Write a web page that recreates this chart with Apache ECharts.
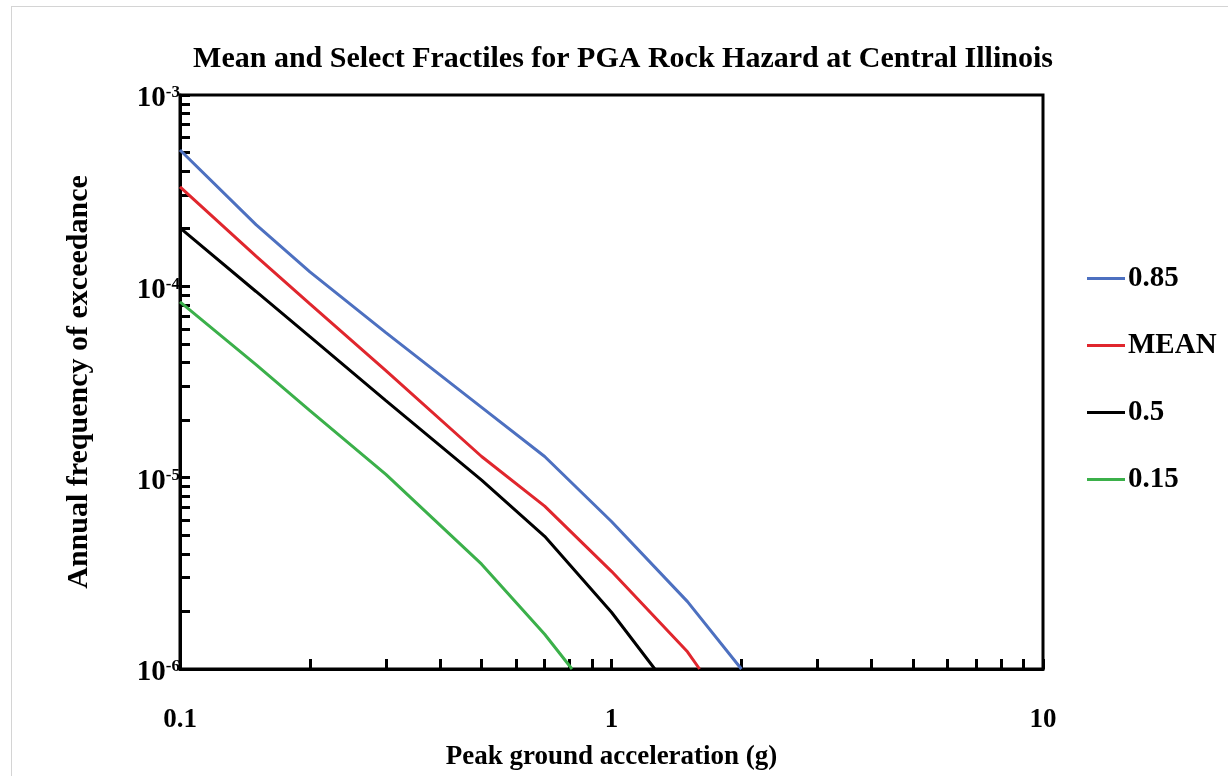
<!DOCTYPE html>
<html>
<head>
<meta charset="utf-8">
<script src="https://cdn.jsdelivr.net/npm/echarts@6/dist/echarts.min.js"></script>
<style>
  html, body { margin: 0; padding: 0; background: #fff; }
  #main { width: 1228px; height: 776px; position: relative; }
  #frame { position: absolute; left: 11px; top: 6px; right: 0; bottom: 0;
           border-top: 1px solid #d4d4d4; border-left: 1px solid #d4d4d4; pointer-events: none; }
</style>
</head>
<body>
<div id="main"></div>
<div id="frame"></div>
<script>
// PGA (g) and annual frequency of exceedance for each fractile
var pga85 = [0.1, 0.15, 0.2, 0.3, 0.5, 0.7, 1.0, 1.5, 2.0]
var afe85 = [5.16e-4, 2.1e-4, 1.19e-4, 5.73e-5, 2.33e-5, 1.29e-5, 5.9e-6, 2.25e-6, 1.0e-6]

var pgaMean = [0.1, 0.15, 0.2, 0.3, 0.5, 0.7, 1.0, 1.5, 1.6]
var afeMean = [3.31e-4, 1.44e-4, 8.1e-5, 3.63e-5, 1.29e-5, 7.1e-6, 3.24e-6, 1.23e-6, 1.0e-6]

var pga50 = [0.1, 0.15, 0.2, 0.3, 0.5, 0.7, 1.0, 1.26]
var afe50 = [2.02e-4, 9.4e-5, 5.46e-5, 2.53e-5, 9.7e-6, 4.94e-6, 1.98e-6, 1.0e-6]

var pga15 = [0.1, 0.15, 0.2, 0.3, 0.5, 0.7, 0.81]
var afe15 = [8.3e-5, 3.9e-5, 2.24e-5, 1.04e-5, 3.53e-6, 1.52e-6, 1.0e-6]

var seriesNames = ['0.85', 'MEAN', '0.5', '0.15']
var seriesColors = ['#4d70c0', '#e0262d', '#000000', '#3bb04a']

// tick positions at 1..9 x each decade
var xTickValues = [0.1, 0.2, 0.3, 0.4, 0.5, 0.6, 0.7, 0.8, 0.9, 1, 2, 3, 4, 5, 6, 7, 8, 9, 10]
var yTickValues = [
  1e-6, 2e-6, 3e-6, 4e-6, 5e-6, 6e-6, 7e-6, 8e-6, 9e-6,
  1e-5, 2e-5, 3e-5, 4e-5, 5e-5, 6e-5, 7e-5, 8e-5, 9e-5,
  1e-4, 2e-4, 3e-4, 4e-4, 5e-4, 6e-4, 7e-4, 8e-4, 9e-4, 1e-3
]
var xLabelValues = [0.1, 1, 10]
var yLabelValues = [1e-6, 1e-5, 1e-4, 1e-3]

function pairs(xs, ys) {
  return xs.map(function (x, i) { return [x, ys[i]] })
}

var font = 'Liberation Serif'
var allData = [pairs(pga85, afe85), pairs(pgaMean, afeMean), pairs(pga50, afe50), pairs(pga15, afe15)]

var option = {
  animation: false,
  backgroundColor: 'transparent',
  title: {
    text: 'Mean and Select Fractiles for PGA Rock Hazard at Central Illinois',
    left: 618,
    textAlign: 'center',
    top: 39,
    textStyle: { fontFamily: font, fontWeight: 'bold', fontSize: 30, color: '#000' }
  },
  legend: {
    data: seriesNames,
    orient: 'vertical',
    left: 1082,
    top: 259,
    itemWidth: 38,
    itemHeight: 14,
    itemGap: 38,
    icon: 'path://M0,0 L38,0 L38,3 L0,3 Z',
    textStyle: { fontFamily: font, fontWeight: 'bold', fontSize: 29, color: '#000', padding: [0, 0, 0, -2] }
  },
  grid: {
    left: 180, right: 185, top: 95, bottom: 106,
    show: true, borderColor: '#000', borderWidth: 3, backgroundColor: 'transparent'
  },
  xAxis: {
    type: 'log',
    logBase: 10,
    min: 0.1,
    max: 10,
    name: 'Peak ground acceleration (g)',
    nameLocation: 'middle',
    nameGap: 75,
    nameTextStyle: { fontFamily: font, fontWeight: 'bold', fontSize: 27, color: '#000' },
    axisLine: { lineStyle: { color: '#000', width: 3 } },
    axisTick: { inside: true, length: 10, customValues: xTickValues, lineStyle: { color: '#000', width: 3 } },
    axisLabel: {
      customValues: xLabelValues,
      margin: 38,
      fontFamily: font, fontWeight: 'bold', fontSize: 27, color: '#000',
      formatter: function (v) { return String(v) }
    },
    splitLine: { show: false }
  },
  yAxis: {
    type: 'log',
    logBase: 10,
    min: 1e-6,
    max: 1e-3,
    name: 'Annual frequency of exceedance',
    nameLocation: 'middle',
    nameGap: 86,
    nameTextStyle: { fontFamily: font, fontWeight: 'bold', fontSize: 30, color: '#000' },
    axisLine: { lineStyle: { color: '#000', width: 3 } },
    axisTick: { inside: true, length: 10, customValues: yTickValues, lineStyle: { color: '#000', width: 3 } },
    axisLabel: {
      customValues: yLabelValues,
      margin: 0,
      padding: [8, 0, 0, 0],
      formatter: function (v) {
        return '{b|10}{s|' + Math.round(Math.log10(v)) + '}'
      },
      rich: {
        b: { fontFamily: font, fontWeight: 'bold', fontSize: 29, color: '#000' },
        s: { fontFamily: font, fontWeight: 'bold', fontSize: 17, color: '#000', padding: [0, 0, 12, 0] }
      }
    },
    splitLine: { show: false }
  },
  series: seriesNames.map(function (name, i) {
    return {
      name: name,
      type: 'line',
      data: allData[i],
      symbol: 'none',
      showSymbol: false,
      color: seriesColors[i],
      lineStyle: { width: 3, color: seriesColors[i] },
      z: 10 - i
    }
  })
}

var chart = echarts.init(document.getElementById('main'))
chart.setOption(option)
</script>
</body>
</html>
